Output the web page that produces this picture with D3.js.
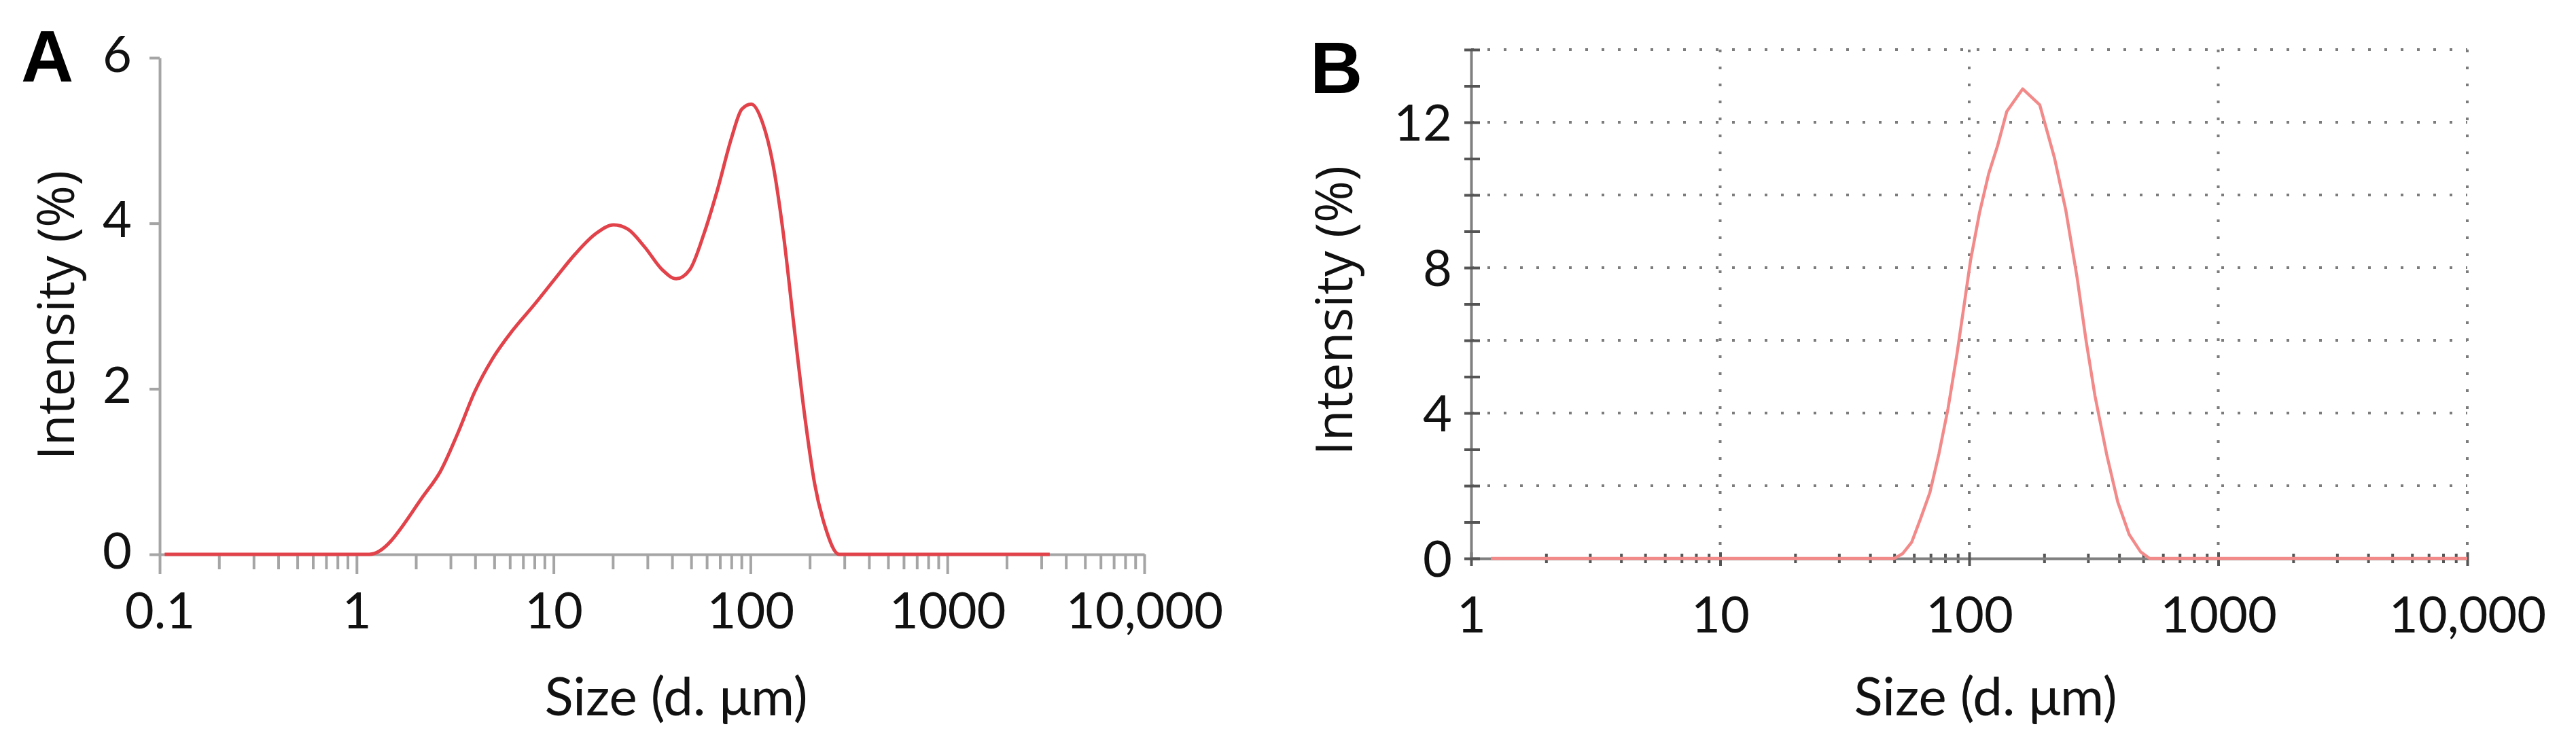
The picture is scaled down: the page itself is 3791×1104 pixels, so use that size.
<!DOCTYPE html>
<html>
<head>
<meta charset="utf-8">
<script src="https://cdn.jsdelivr.net/npm/d3@7"></script>
<style>
    body { margin: 0; background: #ffffff; }
</style>
</head>
<body>
<svg id="drawing_region"></svg>
<script>
// panel A : size (d. um) vs intensity (%)
const sizeA = [0.106, 1.16, 2.22, 2.66, 3.26, 3.99, 4.89, 6.22, 7.94, 10.1, 12.9, 16.5, 20.2, 23.8, 29.1,
               35.6, 42.0, 49.2, 58.0, 68.1, 80.1, 90.5, 101, 115, 130, 147, 166, 188, 212, 239, 282, 3310];
const intensityA = [0, 0, 0.73, 1.0, 1.46, 1.97, 2.36, 2.71, 3.01, 3.32, 3.63, 3.88, 3.98, 3.93, 3.71,
                    3.44, 3.33, 3.44, 3.87, 4.41, 5.03, 5.38, 5.44, 5.22, 4.72, 3.87, 2.78, 1.70, 0.85, 0.34, 0, 0];
const xTicksA = [0.1, 1, 10, 100, 1000, 10000];
const xLabelsA = ['0.1', '1', '10', '100', '1000', '10,000'];
const yTicksA = [0, 2, 4, 6];

// panel B
const sizeB = [1.2, 50, 54, 58.7, 63.9, 69.5, 75.6, 82.2, 89.3, 96.1, 101.2, 110, 119.7, 130.2, 141.6,
               164, 192, 220, 244, 271, 295, 320, 356, 395, 439, 488, 530, 10000];
const intensityB = [0, 0, 0.13, 0.44, 1.11, 1.81, 2.88, 4.12, 5.62, 7.12, 8.19, 9.51, 10.58, 11.37, 12.30,
                    12.92, 12.48, 11.02, 9.6, 7.74, 5.97, 4.47, 2.88, 1.55, 0.66, 0.18, 0, 0];
const xTicksB = [1, 10, 100, 1000, 10000];
const xLabelsB = ['1', '10', '100', '1000', '10,000'];
const yTicksB = [0, 4, 8, 12];
const yGridB = [2, 4, 6, 8, 10, 12, 14];

const xTitle = 'Size (d. μm)';
const yTitle = 'Intensity (%)';

const svg = d3.select('#drawing_region')
    .attr('width', 3791)
    .attr('height', 1104);

// minor ticks 2..9 inside every decade
function minorTicks( decades ) {
    let out = [];
    decades.slice(0, -1).forEach( d => {
        for (let k = 2; k <= 9; k++) out.push( d * k );
    });
    return out;
}

class DistChart {

    constructor( config, sizes, values ) {
        this.config = config;
        this.data = sizes.map( (s, i) => ({ x: s, y: values[i] }) );
        this.init();
    }

    init() {
        let self = this;
        const c = self.config;

        self.chart = svg.append('g')
            .attr('transform', `translate(${c.left}, ${c.top})`);

        self.xscale = d3.scaleLog()
            .domain( c.xdomain )
            .range( [0, c.width] );

        self.yscale = d3.scaleLinear()
            .domain( c.ydomain )
            .range( [c.height, 0] );

        self.line = d3.line()
            .x( d => self.xscale( d.x ) )
            .y( d => self.yscale( d.y ) )
            .curve( c.smooth ? d3.curveMonotoneX : d3.curveLinear );
    }

    render() {
        let self = this;
        const c = self.config;

        if (c.grid) {
            self.chart.selectAll('.hgrid')
                .data( c.ygrid )
                .enter()
                .append('line')
                .attr('x1', 0).attr('x2', c.width)
                .attr('y1', d => self.yscale(d)).attr('y2', d => self.yscale(d))
                .attr('stroke', '#7c7c7c').attr('stroke-width', 4)
                .attr('stroke-dasharray', '4,20');

            self.chart.selectAll('.vgrid')
                .data( c.xticks.slice(1) )
                .enter()
                .append('line')
                .attr('x1', d => self.xscale(d)).attr('x2', d => self.xscale(d))
                .attr('y1', 0).attr('y2', c.height)
                .attr('stroke', '#7c7c7c').attr('stroke-width', 4)
                .attr('stroke-dasharray', '4,21');
        }

        // x axis, minor then major ticks
        const xminor = self.chart.append('g')
            .attr('transform', `translate(0, ${c.height})`)
            .call( d3.axisBottom( self.xscale ).tickValues( minorTicks(c.xticks) )
                .tickSize( c.minorLen ).tickFormat('') );
        xminor.select('.domain').remove();

        const xmajor = self.chart.append('g')
            .attr('transform', `translate(0, ${c.height})`)
            .call( d3.axisBottom( self.xscale ).tickValues( c.xticks )
                .tickSize( c.majorLen ).tickSizeOuter(0)
                .tickFormat( (d, i) => c.xlabels[i] ) );

        const yaxis = self.chart.append('g')
            .call( d3.axisLeft( self.yscale ).tickValues( c.yaxisTicks )
                .tickSize( c.yTickLen ).tickSizeOuter(0)
                .tickFormat( d => c.yticks.includes(d) ? d : '' ) );

        [xminor, xmajor, yaxis].forEach( g => {
            g.selectAll('line, path')
                .attr('stroke', c.axisColor)
                .attr('stroke-width', 4);
        });

        if (c.grid) {
            // ticks cross the axis lines
            xminor.selectAll('.tick line').attr('y1', -7).attr('y2', 7).attr('stroke', '#555');
            xmajor.selectAll('.tick line').attr('y1', -9).attr('y2', 11).attr('stroke', '#555');
            yaxis.selectAll('.tick line').attr('x1', -10).attr('x2', 13).attr('stroke', '#555');
        }

        xmajor.selectAll('text')
            .attr('y', 109).attr('dy', null)
            .attr('font-family', 'Lato').attr('font-size', 74).attr('fill', '#111');

        yaxis.selectAll('text')
            .attr('x', c.ylabelX).attr('y', c.ylabelDy).attr('dy', null)
            .attr('font-family', 'Lato').attr('font-size', 74).attr('fill', '#111');

        self.chart.append('path')
            .attr('d', self.line( self.data ))
            .attr('fill', 'none')
            .attr('stroke', c.lineColor)
            .attr('stroke-width', c.lineWidth)
            .attr('stroke-linejoin', 'round');

        // titles
        self.chart.append('text')
            .attr('x', c.xTitleX).attr('y', 1053 - c.top)
            .attr('text-anchor', 'middle')
            .attr('font-family', 'Lato').attr('font-size', 78).attr('fill', '#111')
            .text( xTitle );

        self.chart.append('text')
            .attr('transform', `translate(${c.yTitleX}, ${c.yTitleY}) rotate(-90)`)
            .attr('text-anchor', 'middle')
            .attr('font-family', 'Open Sans').attr('font-size', 75).attr('fill', '#111')
            .text( yTitle );

        svg.append('text')
            .attr('x', c.tagX).attr('y', c.tagY)
            .attr('font-family', 'Liberation Sans').attr('font-weight', 'bold')
            .attr('font-size', 107).attr('fill', '#000')
            .text( c.tag );
    }
}

const chartA = new DistChart({
    tag: 'A', tagX: 31, tagY: 120,
    left: 235, top: 85, width: 1449, height: 731,
    xdomain: [0.1, 10000], ydomain: [0, 6],
    xticks: xTicksA, xlabels: xLabelsA, yticks: yTicksA, yaxisTicks: yTicksA,
    majorLen: 29, minorLen: 22, yTickLen: 15,
    ylabelX: -41, ylabelDy: 20,
    axisColor: '#a5a5a5', grid: false, smooth: true,
    lineColor: '#e2424a', lineWidth: 5,
    xTitleX: 995 - 235, yTitleX: 109 - 235, yTitleY: 464 - 85
}, sizeA, intensityA);
chartA.render();

const chartB = new DistChart({
    tag: 'B', tagX: 1928, tagY: 137,
    left: 2165, top: 73, width: 1466, height: 749,
    xdomain: [1, 10000], ydomain: [0, 14],
    xticks: xTicksB, xlabels: xLabelsB, yticks: yTicksB, yaxisTicks: d3.range(0, 15), ygrid: yGridB,
    majorLen: 11, minorLen: 7, yTickLen: 10,
    ylabelX: -28, ylabelDy: 26,
    axisColor: '#808080', grid: true, smooth: false,
    lineColor: '#f28a8a', lineWidth: 4.5,
    xTitleX: 2922 - 2165, yTitleX: 1990 - 2165, yTitleY: 457 - 73
}, sizeB, intensityB);
chartB.render();
</script>
</body>
</html>
